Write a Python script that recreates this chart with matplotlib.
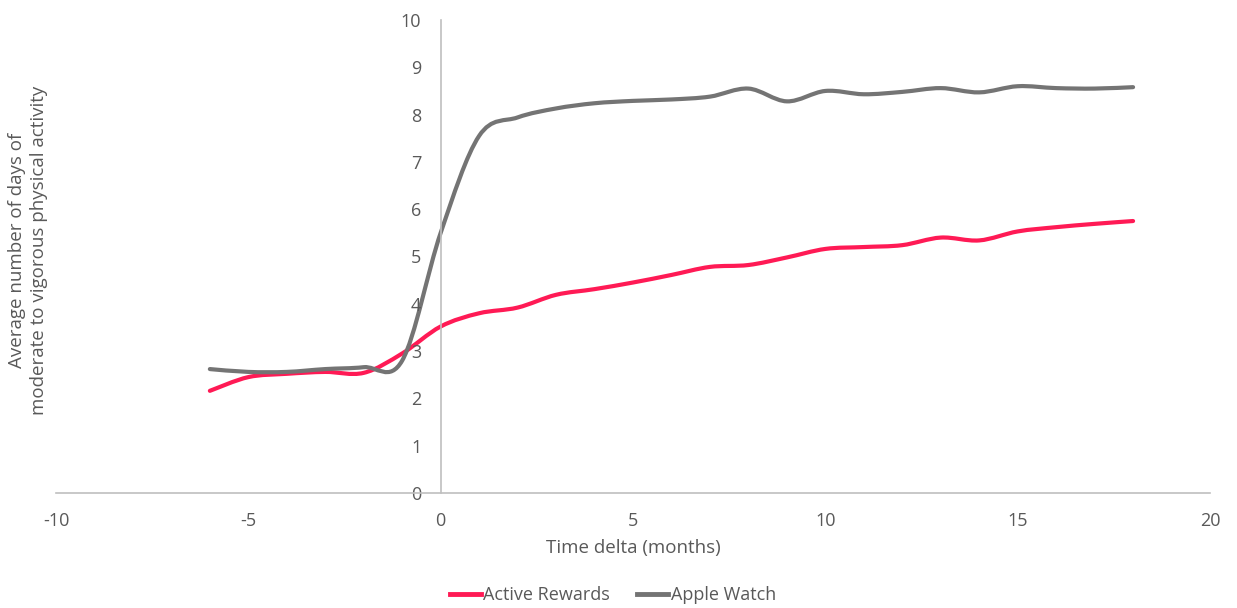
import numpy as np
import matplotlib
matplotlib.use('Agg')
import matplotlib.pyplot as plt
from matplotlib.path import Path
from matplotlib.patches import PathPatch
from matplotlib.lines import Line2D

plt.rcParams['font.family'] = ['Open Sans', 'DejaVu Sans']
plt.rcParams['axes.unicode_minus'] = False

# datos (meses respecto al inicio)
meses = [-6, -5, -4, -3, -2, -1, 0, 1, 2, 3, 4, 5, 6, 7, 8, 9, 10, 11, 12, 13, 14, 15, 16, 17, 18]
active_rewards = [2.16, 2.45, 2.52, 2.56, 2.54, 2.95, 3.52, 3.80, 3.92, 4.19, 4.31, 4.45, 4.61,
                  4.78, 4.82, 4.98, 5.16, 5.20, 5.24, 5.40, 5.34, 5.53, 5.62, 5.69, 5.75]
apple_watch = [2.62, 2.56, 2.56, 2.62, 2.66, 2.80, 5.50, 7.55, 7.94, 8.13, 8.24, 8.29, 8.32,
               8.38, 8.55, 8.28, 8.50, 8.43, 8.48, 8.56, 8.47, 8.60, 8.56, 8.55, 8.58]

rojo = '#FF1A55'
gris = '#747474'
texto = '#595959'


def linea_suave(ax, x, y, color):
    # curva tipo "smoothed line" de Excel (bezier catmull-rom)
    x = np.asarray(x, float)
    y = np.asarray(y, float)
    px = np.concatenate([[x[0]], x, [x[-1]]])
    py = np.concatenate([[y[0]], y, [y[-1]]])
    verts = [(x[0], y[0])]
    codes = [Path.MOVETO]
    for i in range(1, len(px) - 2):
        c1 = (px[i] + (px[i + 1] - px[i - 1]) / 6, py[i] + (py[i + 1] - py[i - 1]) / 6)
        c2 = (px[i + 1] - (px[i + 2] - px[i]) / 6, py[i + 1] - (py[i + 2] - py[i]) / 6)
        verts += [c1, c2, (px[i + 1], py[i + 1])]
        codes += [Path.CURVE4] * 3
    ax.add_patch(PathPatch(Path(verts, codes), facecolor='none', edgecolor=color,
                           lw=3, capstyle='round', joinstyle='round'))


fig = plt.figure(figsize=(12.37, 6.08), dpi=100)
ax = fig.add_axes([56 / 1237, 1 - 493 / 608, (1210 - 56) / 1237, (493 - 20) / 608])

linea_suave(ax, meses, active_rewards, rojo)
linea_suave(ax, meses, apple_watch, gris)

ax.set_xlim(-10, 20)
ax.set_ylim(0, 10)
ax.set_xticks(range(-10, 21, 5))
ax.set_yticks(range(0, 11))

ax.spines['top'].set_visible(False)
ax.spines['right'].set_visible(False)
ax.spines['left'].set_position(('data', 0))
for s in ['left', 'bottom']:
    ax.spines[s].set_color('#BFBFBF')
    ax.spines[s].set_linewidth(1.2)

ax.tick_params(axis='x', length=0, pad=14, labelsize=13, labelcolor=texto)
ax.tick_params(axis='y', length=0, pad=14, labelsize=13, labelcolor=texto)

ax.set_xlabel('Time delta (months)', fontsize=13.5, color=texto, labelpad=6)
fig.text(28 / 1237, 1 - 250 / 608,
         'Average number of days of\nmoderate to vigorous physical activity',
         rotation=90, ha='center', va='center', multialignment='center',
         fontsize=13.5, color=texto, linespacing=1.3)

handles = [Line2D([], [], color=rojo, lw=3.5), Line2D([], [], color=gris, lw=3.5)]
fig.legend(handles, ['Active Rewards', 'Apple Watch'], loc='center',
           bbox_to_anchor=(613 / 1237, 1 - 595 / 608), ncol=2, frameon=False,
           fontsize=13, labelcolor=texto, handlelength=1.7, handletextpad=0.15,
           columnspacing=1.5)

fig.savefig('out.png', dpi=100)
